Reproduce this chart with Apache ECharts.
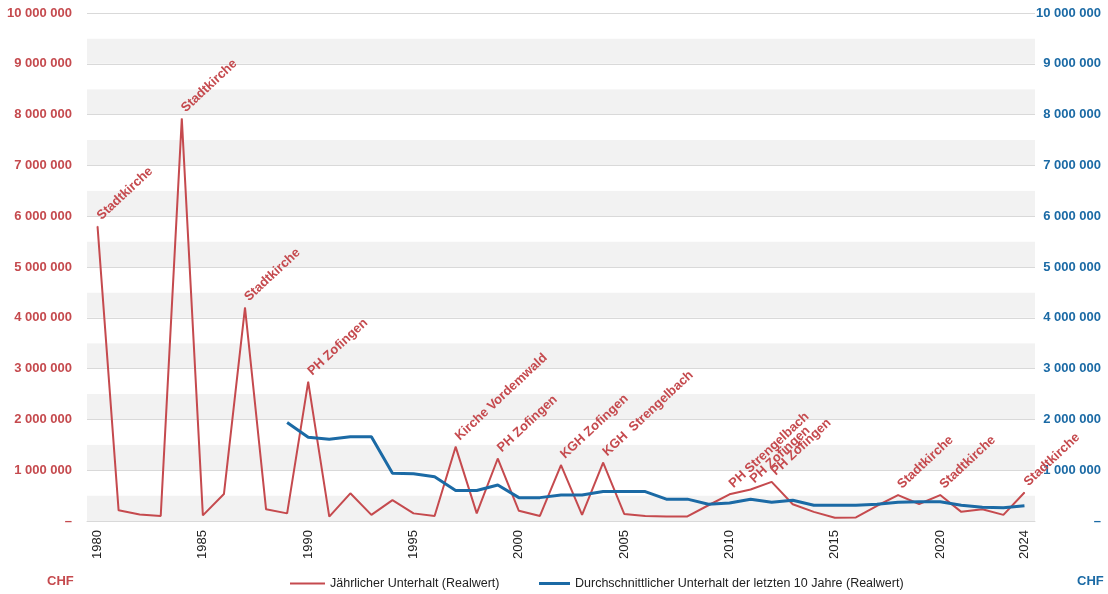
<!DOCTYPE html>
<html>
<head>
<meta charset="utf-8">
<style>
  html, body { margin: 0; padding: 0; background: #fff; }
  #chart { width: 1108px; height: 594px; }
</style>
<script src="https://cdn.jsdelivr.net/npm/echarts@6/dist/echarts.min.js"></script>
</head>
<body>
<div id="chart"></div>
<script>
// Years on the category axis
const years = [
  1980, 1981, 1982, 1983, 1984, 1985, 1986, 1987, 1988, 1989,
  1990, 1991, 1992, 1993, 1994, 1995, 1996, 1997, 1998, 1999,
  2000, 2001, 2002, 2003, 2004, 2005, 2006, 2007, 2008, 2009,
  2010, 2011, 2012, 2013, 2014, 2015, 2016, 2017, 2018, 2019,
  2020, 2021, 2022, 2023, 2024
];

// Yearly maintenance (real value, CHF)
const annual = [
  5800000, 210000, 130000, 100000, 7920000, 110000, 530000, 4200000, 230000, 150000,
  2740000, 85000, 545000, 120000, 410000, 150000, 100000, 1460000, 150000, 1230000,
  200000, 100000, 1100000, 120000, 1150000, 140000, 100000, 90000, 90000, 310000,
  525000, 620000, 770000, 330000, 180000, 65000, 70000, 300000, 510000, 335000,
  510000, 180000, 230000, 120000, 560000
];

// Average maintenance over the last 10 years (real value, CHF)
const average = [
  null, null, null, null, null, null, null, null, null, 1940000,
  1650000, 1610000, 1660000, 1660000, 940000, 930000, 870000, 600000, 600000, 710000,
  460000, 460000, 510000, 510000, 580000, 580000, 580000, 430000, 430000, 330000,
  355000, 430000, 370000, 410000, 310000, 310000, 310000, 330000, 370000, 380000,
  380000, 310000, 270000, 260000, 300000
];

// Projects named above the yearly line
const noteYears = [1980, 1984, 1987, 1990, 1997, 1999, 2002, 2004, 2010, 2011, 2012, 2018, 2020, 2024];
const noteTexts = [
  'Stadtkirche', 'Stadtkirche', 'Stadtkirche', 'PH Zofingen', 'Kirche Vordemwald',
  'PH Zofingen', 'KGH Zofingen', 'KGH  Strengelbach', 'PH Strengelbach', 'PH Zofingen',
  'PH Zofingen', 'Stadtkirche', 'Stadtkirche', 'Stadtkirche'
];

// Axis ticks (CHF)
const axisMin = 0;
const axisMax = 10000000;
const axisStep = 1000000;

const RED = '#c54a4e';
const BLUE = '#1b6aa5';
const FONT = '"Liberation Sans", Arial, Helvetica, sans-serif';
const NAME_ANNUAL = 'Jährlicher Unterhalt (Realwert)';
const NAME_AVG = 'Durchschnittlicher Unterhalt der letzten 10 Jahre (Realwert)';

function chf(v) {
  if (v === 0) return '\u2013';
  return String(Math.round(v)).replace(/\B(?=(\d{3})+(?!\d))/g, ' ');
}

// Annotated years get a tiny point so their label can be attached
const annualData = annual.map((v, i) => {
  const k = noteYears.indexOf(years[i]);
  if (k < 0) return v;
  return {
    value: v,
    symbol: 'circle',
    symbolSize: 1,
    label: {
      show: true,
      formatter: noteTexts[k],
      position: 'top',
      distance: 4,
      offset: [4, -2],
      rotate: 43,
      align: 'left',
      verticalAlign: 'middle',
      color: RED,
      fontWeight: 'bold',
      fontSize: 13,
      fontFamily: FONT
    }
  };
});

const legendText = { color: '#222', fontSize: 12.5, fontFamily: FONT };

const chart = echarts.init(document.getElementById('chart'), null, { renderer: 'canvas' });

chart.setOption({
  animation: false,
  backgroundColor: '#fff',
  textStyle: { fontFamily: FONT },
  grid: { left: 87, right: 73, top: 13, bottom: 73, containLabel: false },
  xAxis: {
    type: 'category',
    data: years.map(String),
    boundaryGap: true,
    axisLine: { show: true, lineStyle: { color: '#d9d9d9', width: 1 } },
    axisTick: { show: false },
    axisLabel: {
      rotate: 90,
      margin: 9,
      color: '#222',
      fontSize: 13,
      fontFamily: FONT,
      interval: (i, v) => Number(v) % 5 === 0 || Number(v) === 2024
    },
    splitLine: { show: false }
  },
  yAxis: [
    {
      type: 'value',
      position: 'left',
      min: axisMin, max: axisMax, interval: axisStep,
      axisLine: { show: false },
      axisTick: { show: false },
      axisLabel: {
        formatter: chf, color: RED, fontWeight: 'bold', fontSize: 13,
        fontFamily: FONT, margin: 15
      },
      splitLine: { show: true, lineStyle: { color: '#d9d9d9', width: 1 } },
      z: 3
    },
    {
      type: 'value',
      position: 'right',
      min: axisMin, max: axisMax, interval: axisStep,
      axisLine: { show: false },
      axisTick: { show: false },
      axisLabel: {
        formatter: chf, color: BLUE, fontWeight: 'bold', fontSize: 13,
        fontFamily: FONT, margin: 66, align: 'right'
      },
      splitLine: { show: false }
    },
    {
      // alternating half-million bands behind the plot
      type: 'value',
      position: 'left',
      min: axisMin, max: axisMax, interval: axisStep / 2,
      axisLine: { show: false },
      axisTick: { show: false },
      axisLabel: { show: false },
      splitLine: { show: false },
      splitArea: { show: true, areaStyle: { color: ['#f2f2f2', '#ffffff'] } }
    }
  ],
  legend: [
    {
      left: 285, top: 572,
      icon: 'rect', itemWidth: 35, itemHeight: 2, itemGap: 0,
      textStyle: legendText,
      data: [NAME_ANNUAL]
    },
    {
      left: 534, top: 572,
      icon: 'rect', itemWidth: 31, itemHeight: 3, itemGap: 0,
      textStyle: legendText,
      data: [NAME_AVG]
    }
  ],
  graphic: [
    {
      type: 'text', left: 47, top: 575,
      style: { text: 'CHF', fill: RED, font: 'bold 13px ' + FONT }
    },
    {
      type: 'text', left: 1077, top: 575,
      style: { text: 'CHF', fill: BLUE, font: 'bold 13px ' + FONT }
    }
  ],
  series: [
    {
      name: NAME_ANNUAL,
      type: 'line',
      yAxisIndex: 0,
      data: annualData,
      symbol: 'none',
      lineStyle: { color: RED, width: 2 },
      itemStyle: { color: RED },
      z: 3
    },
    {
      name: NAME_AVG,
      type: 'line',
      yAxisIndex: 1,
      data: average,
      symbol: 'none',
      connectNulls: false,
      lineStyle: { color: BLUE, width: 3 },
      itemStyle: { color: BLUE },
      z: 4
    }
  ]
});
</script>
</body>
</html>
